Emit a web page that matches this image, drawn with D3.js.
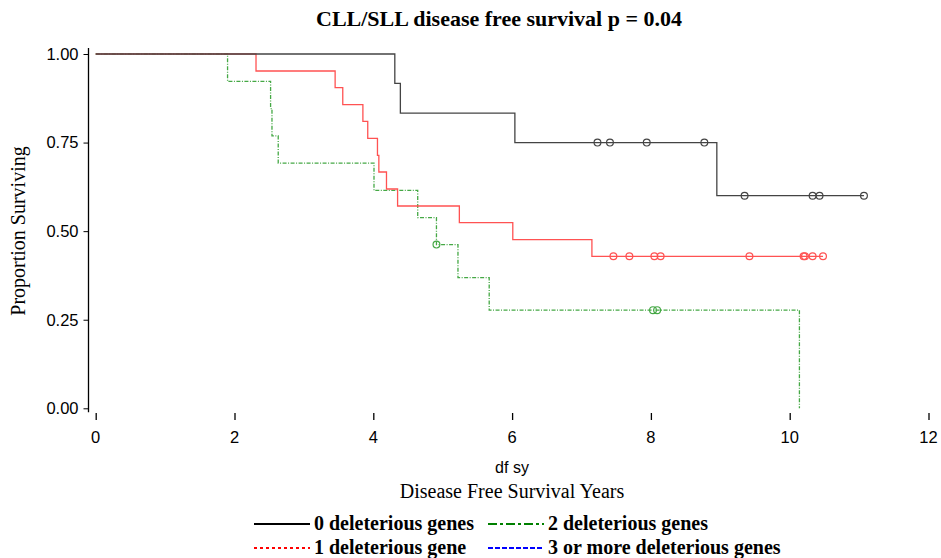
<!DOCTYPE html>
<html>
<head>
<meta charset="utf-8">
<script src="https://cdn.jsdelivr.net/npm/d3@7"></script>
<style>
  body { margin: 0; background: #fff; }
  svg text { fill: #000; }
</style>
</head>
<body>
<script>
// step curves: time of each drop and the level reached after it
var times0 = [0, 4.31, 4.39, 6.04, 8.95];
var surv0 = [1, 0.917, 0.833, 0.75, 0.6];
var end0 = 11.07;
var cens0 = [7.23, 7.41, 7.94, 8.77, 9.35, 10.33, 10.43, 11.07];

var times1 = [0, 2.31, 3.45, 3.56, 3.85, 3.92, 4.06, 4.08, 4.19, 4.35, 5.24, 6.01, 7.15];
var surv1 = [1, 0.952, 0.905, 0.857, 0.810, 0.762, 0.714, 0.667, 0.619, 0.571, 0.524, 0.476, 0.429];
var end1 = 10.48;
var cens1 = [7.46, 7.69, 8.05, 8.14, 9.42, 10.20, 10.22, 10.33, 10.48];

var times2 = [0, 1.90, 2.52, 2.54, 2.63, 4.01, 4.64, 4.91, 5.22, 5.67, 10.14];
var surv2 = [1, 0.923, 0.846, 0.769, 0.692, 0.615, 0.538, 0.462, 0.369, 0.277, 0];
var end2 = 10.14;
var cens2 = [4.91, 8.03, 8.09];

var xTicks = [0, 2, 4, 6, 8, 10, 12];
var yTicks = [0, 0.25, 0.5, 0.75, 1];
var legendLabels = ['0 deleterious genes', '1 deleterious gene', '2 deleterious genes', '3 or more deleterious genes'];

var width = 941, height = 558;
var sans = 'Liberation Sans, Arial, sans-serif';
var serif = 'Liberation Serif, Times New Roman, serif';

var svg = d3.select('body').append('svg')
  .attr('width', width)
  .attr('height', height);

var x = d3.scaleLinear().domain([0, 12]).range([95.7, 928.5]);
var y = d3.scaleLinear().domain([0, 1]).range([408.3, 54]);

var makeSeries = function(times, surv, end){
  var pts = times.map(function(t, i){ return [t, surv[i]]; });
  pts.push([end, surv[surv.length - 1]]);
  return pts;
};

var levelAt = function(times, surv, t){
  var v = surv[0];
  for (var i = 0; i < times.length; i++) {
    if (times[i] <= t) v = surv[i];
  }
  return v;
};

var series = [
  {pts: makeSeries(times0, surv0, end0), times: times0, surv: surv0, cens: cens0, color: '#444', dash: null},
  {pts: makeSeries(times1, surv1, end1), times: times1, surv: surv1, cens: cens1, color: '#ff5252', dash: null},
  {pts: makeSeries(times2, surv2, end2), times: times2, surv: surv2, cens: cens2, color: '#45a845', dash: '4,1.5,1,1.5'}
];

var line = d3.line()
  .x(function(d){ return x(d[0]); })
  .y(function(d){ return y(d[1]); })
  .curve(d3.curveStepAfter);

// draw in reverse so black sits on top
series.slice().reverse().forEach(function(s){
  svg.append('path')
    .attr('d', line(s.pts))
    .attr('fill', 'none')
    .attr('stroke', s.color)
    .attr('stroke-width', 1.3)
    .attr('stroke-dasharray', s.dash);
  svg.selectAll(null)
    .data(s.cens)
    .enter()
    .append('circle')
    .attr('cx', function(d){ return x(d); })
    .attr('cy', function(d){ return y(levelAt(s.times, s.surv, d)); })
    .attr('r', 3.4)
    .attr('fill', 'none')
    .attr('stroke', s.color)
    .attr('stroke-width', 1.2);
});

// y axis
var yAxis = svg.append('g')
  .attr('transform', 'translate(88.5,0)')
  .call(d3.axisLeft(y).tickValues(yTicks).tickFormat(d3.format('.2f')).tickSize(5).tickPadding(5));
yAxis.select('.domain').attr('d', 'M0,' + (y(1) - 6) + 'V' + (y(0) + 4)).attr('stroke-width', 1.3);
yAxis.selectAll('text').attr('font-family', sans).attr('font-size', 16.5);

// x axis: ticks only
var xAxis = svg.append('g')
  .attr('transform', 'translate(0,420)')
  .call(d3.axisTop(x).tickValues(xTicks).tickSize(7).tickFormat(''));
xAxis.select('.domain').remove();
xAxis.selectAll('line').attr('stroke-width', 1.3);

svg.selectAll('.xlab')
  .data(xTicks)
  .enter()
  .append('text')
  .attr('x', function(d){ return x(d); })
  .attr('y', 443)
  .attr('text-anchor', 'middle')
  .attr('font-family', sans)
  .attr('font-size', 16.5)
  .text(function(d){ return d; });

svg.append('text')
  .attr('x', 512).attr('y', 473)
  .attr('text-anchor', 'middle')
  .attr('font-family', sans)
  .attr('font-size', 16)
  .text('df sy');

svg.append('text')
  .attr('x', 512).attr('y', 498)
  .attr('text-anchor', 'middle')
  .attr('font-family', serif)
  .attr('font-size', 20)
  .text('Disease Free Survival Years');

svg.append('text')
  .attr('transform', 'translate(25,231) rotate(-90)')
  .attr('text-anchor', 'middle')
  .attr('font-family', serif)
  .attr('font-size', 20)
  .text('Proportion Surviving');

svg.append('text')
  .attr('x', 499).attr('y', 26)
  .attr('text-anchor', 'middle')
  .attr('font-family', serif)
  .attr('font-weight', 'bold')
  .attr('font-size', 22)
  .text('CLL/SLL disease free survival p = 0.04');

// legend
var legendItems = [
  {label: legendLabels[0], color: '#000', dash: null, lx: 254, ly: 524},
  {label: legendLabels[1], color: '#ff0000', dash: '3,3', lx: 254, ly: 548},
  {label: legendLabels[2], color: '#008000', dash: '9,3,3,3', lx: 488, ly: 524},
  {label: legendLabels[3], color: '#0000ff', dash: '5,2', lx: 488, ly: 548}
];
var leg = svg.selectAll('.leg')
  .data(legendItems)
  .enter()
  .append('g')
  .attr('transform', function(d){ return 'translate(' + d.lx + ',' + d.ly + ')'; });
leg.append('line')
  .attr('x1', 0).attr('x2', 56)
  .attr('stroke', function(d){ return d.color; })
  .attr('stroke-width', 2)
  .attr('stroke-dasharray', function(d){ return d.dash; });
leg.append('text')
  .attr('x', 60).attr('y', 5.5)
  .attr('font-family', serif)
  .attr('font-weight', 'bold')
  .attr('font-size', 20)
  .text(function(d){ return d.label; });
</script>
</body>
</html>
